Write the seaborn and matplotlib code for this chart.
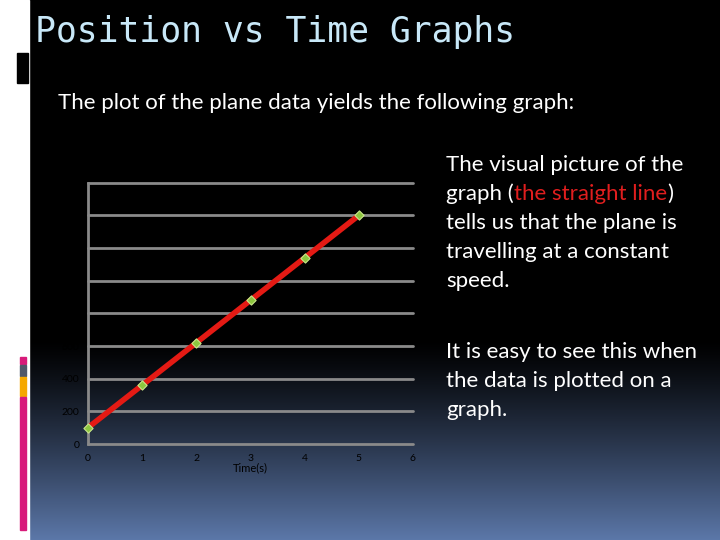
import numpy as np
import pandas as pd
import matplotlib
matplotlib.use("Agg")
import matplotlib.pyplot as plt
import seaborn as sns
from matplotlib.patches import Rectangle

# ---- data ----
time_s = [0, 1, 2, 3, 4, 5]
position = [100, 360, 620, 880, 1140, 1400]
x_ticks = [0, 1, 2, 3, 4, 5, 6]
y_ticks = [0, 200, 400, 600, 800, 1000, 1200, 1400, 1600]

title = "Position vs Time Graphs"
subtitle = "The plot of the plane data yields the following graph:"

sns.set_theme(style="white")
plt.rcParams['font.family'] = ['Lato', 'DejaVu Sans']

W, H = 720, 540
fig = plt.figure(figsize=(7.2, 5.4), dpi=100)

def fx(px):
    return px / W

def fy(py):
    return 1 - py / H

# ---- background ----
bg = fig.add_axes([0, 0, 1, 1])
bg.set_xlim(0, W)
bg.set_ylim(H, 0)
bg.axis('off')
rows = np.arange(H)
t = np.clip((rows - 340) / (H - 340), 0, 1) ** 1.2
top = np.array([0, 0, 0]) / 255
bot = np.array([92, 120, 170]) / 255
grad = top[None, :] * (1 - t[:, None]) + bot[None, :] * t[:, None]
img = np.repeat(grad[:, None, :], 2, axis=1)
bg.imshow(img, extent=[29, W, H, 0], aspect='auto', zorder=0)
bg.add_patch(Rectangle((0, 0), 29, H, color='white', zorder=1))
bg.add_patch(Rectangle((17, 53), 11, 30, color='black', zorder=2))
bg.add_patch(Rectangle((20, 357), 6, 7, color='#d81b7a', zorder=2))
bg.add_patch(Rectangle((20, 365), 6, 11, color='#50586a', zorder=2))
bg.add_patch(Rectangle((20, 377), 6, 19, color='#f5a800', zorder=2))
bg.add_patch(Rectangle((20, 397), 6, 133, color='#d81b7a', zorder=2))

# ---- texts ----
fig.text(fx(35), fy(42), title, color='#c8e8f8', fontsize=25,
         family=['DejaVu Sans Mono'], ha='left', va='baseline')
fig.text(fx(58), fy(109), subtitle, color='white', fontsize=16,
         ha='left', va='baseline')

body_fs = 16
lines1 = ["The visual picture of the", None, "tells us that the plane is",
          "travelling at a constant", "speed."]
base_y = 171
for i, ln in enumerate(lines1):
    yy = base_y + i * 29
    if ln is None:
        continue
    fig.text(fx(446), fy(yy), ln, color='white', fontsize=body_fs,
             ha='left', va='baseline')

# mixed-color line
fig.canvas.draw()
renderer = fig.canvas.get_renderer()
xcur = fx(446)
yy = fy(base_y + 29)
for seg, col in [("graph (", 'white'), ("the straight line", '#e01e1e'), (")", 'white')]:
    tt = fig.text(xcur, yy, seg, color=col, fontsize=body_fs, ha='left', va='baseline')
    bb = tt.get_window_extent(renderer)
    xcur += bb.width / W

lines2 = ["It is easy to see this when", "the data is plotted on a", "graph."]
for i, ln in enumerate(lines2):
    fig.text(fx(446), fy(358 + i * 29), ln, color='white', fontsize=body_fs,
             ha='left', va='baseline')

# ---- chart ----
ax = fig.add_axes([fx(88), fy(444), fx(413) - fx(88), fy(182.7) - fy(444)])
ax.set_facecolor('none')
df = pd.DataFrame({"Time(s)": time_s, "Position": position})
ax.set_xlim(0, 6)
ax.set_ylim(0, 1600)
for yv in y_ticks:
    ax.axhline(yv, color='#8a8a8a', lw=2, zorder=1, clip_on=False)
sns.lineplot(data=df, x="Time(s)", y="Position", ax=ax, color='#e41a14',
             lw=4, zorder=3, clip_on=False)
ax.scatter(time_s, position, marker='D', s=22, facecolor='#8cc63f',
           edgecolor='#c8e68a', linewidth=0.8, zorder=4, clip_on=False)
for s in ['top', 'right', 'bottom']:
    ax.spines[s].set_visible(False)
ax.spines['left'].set_color('#8a8a8a')
ax.spines['left'].set_linewidth(2)
ax.set_xticks(x_ticks)
ax.set_yticks(y_ticks)
ax.tick_params(axis='both', length=0, labelsize=7.5, colors='#000000')
ax.tick_params(axis='x', pad=7)
ax.tick_params(axis='y', pad=6)
ax.set_xlabel("Time(s)", fontsize=8, color='#000000', labelpad=0)
ax.set_ylabel("")

fig.savefig("out.png", dpi=100)
